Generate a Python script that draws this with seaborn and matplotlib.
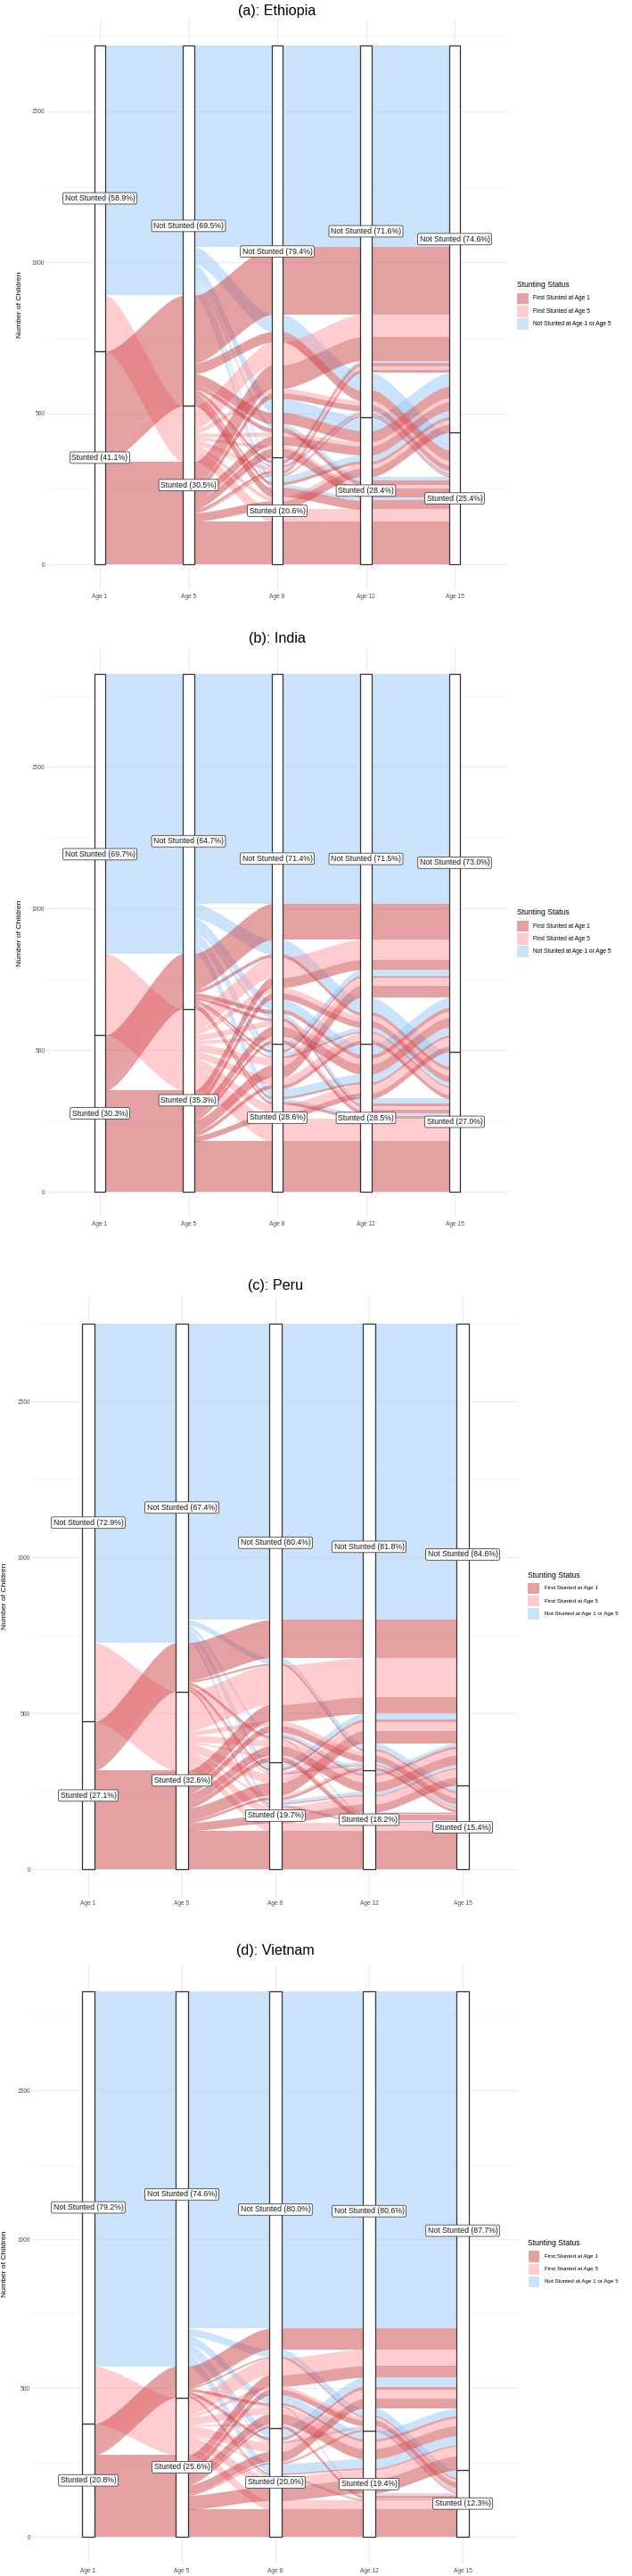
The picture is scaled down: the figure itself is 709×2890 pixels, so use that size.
import itertools
import numpy as np
import matplotlib
matplotlib.use("Agg")
import matplotlib.pyplot as plt
import seaborn as sns
from matplotlib.patches import Rectangle

# ---------------- data ----------------
ages = ['Age 1', 'Age 5', 'Age 8', 'Age 12', 'Age 15']
titles = ['(a): Ethiopia', '(b): India', '(c): Peru', '(d): Vietnam']
group_names = ['First Stunted at Age 1', 'First Stunted at Age 5',
               'Not Stunted at Age 1 or Age 5']
group_colors = ['#CC4247', '#FF9AA0', '#99C9F7']

# children per trajectory; pattern order NNNNN, NNNNS, ..., SSSSS
# (status at ages 1, 5, 8, 12, 15; N = not stunted, S = stunted)
ethiopia = [666, 57, 45, 13, 8, 8, 20, 10,
            75, 15, 13, 10, 13, 4, 14, 40,
            224, 35, 38, 15, 10, 4, 10, 30,
            78, 19, 30, 30, 9, 4, 28, 142]
india = [812, 51, 35, 16, 21, 15, 28, 10,
         71, 20, 20, 12, 27, 26, 31, 80,
         127, 12, 15, 10, 8, 5, 8, 10,
         35, 22, 35, 13, 42, 14, 20, 178]
peru = [950, 18, 10, 3, 19, 8, 10, 5,
        126, 15, 21, 5, 28, 7, 26, 25,
        121, 6, 8, 2, 8, 3, 4, 4,
        53, 21, 30, 16, 40, 8, 26, 124]
vietnam = [1132, 25, 26, 2, 31, 7, 31, 5,
           56, 10, 25, 5, 30, 5, 32, 30,
           70, 5, 8, 2, 10, 2, 5, 3,
           39, 19, 34, 8, 32, 4, 47, 93]

# stratum label percentages as printed
eth_stunted = [41.1, 30.5, 20.6, 28.4, 25.4]
eth_not = [58.9, 69.5, 79.4, 71.6, 74.6]
ind_stunted = [30.3, 35.3, 28.6, 28.5, 27.0]
ind_not = [69.7, 64.7, 71.4, 71.5, 73.0]
per_stunted = [27.1, 32.6, 19.7, 18.2, 15.4]
per_not = [72.9, 67.4, 80.4, 81.8, 84.6]
vie_stunted = [20.8, 25.6, 20.0, 19.4, 12.3]
vie_not = [79.2, 74.6, 80.0, 80.6, 87.7]

panels = [
    (ethiopia, eth_stunted, eth_not),
    (india, ind_stunted, ind_not),
    (peru, per_stunted, per_not),
    (vietnam, vie_stunted, vie_not),
]

# ---------------- layout (pixels) ----------------
W, H = 709, 2890
# left, right, top, bottom of each plotting panel
boxes = [(52.3, 569.7, 22.2, 662.1),
         (52.3, 569.7, 726.7, 1366.1),
         (36.0, 582.0, 1454.4, 2127.9),
         (36.0, 582.0, 2203.4, 2876.9)]
title_y = [12, 716, 1442, 2189]
ylab_x = [22.6, 22.6, 5.6, 5.6]
legend_pos = [(580, 320, 598, 4.8), (580, 1024, 598, 4.8),
              (592, 1767, 611, 4.5), (592.5, 2516.6, 611, 4.5)]

# zigzag lode ordering used by ggalluvial (axis index -> axes to sort on)
zigzag = {0: [0, 1, 2, 3, 4], 1: [1, 0, 2, 3, 4], 2: [2, 3, 1, 4, 0],
          3: [3, 4, 2, 1, 0], 4: [4, 3, 2, 1, 0]}

sns.set_theme(style="whitegrid")
plt.rcParams['font.family'] = ['Liberation Sans', 'DejaVu Sans']

fig = plt.figure(figsize=(W / 100, H / 100), dpi=100)


def px_rect(l, r, t, b):
    return [l / W, 1 - b / H, (r - l) / W, (b - t) / H]


def draw_panel(ax, counts, pct_s, pct_n):
    patterns = list(itertools.product([0, 1], repeat=5))
    n = len(ages)
    total = sum(counts)
    w = 1 / 8
    lo = np.zeros((32, n))
    hi = np.zeros((32, n))
    for i in range(n):
        idx = sorted(range(32), key=lambda k: tuple(patterns[k][j] for j in zigzag[i]))
        top = total
        for k in idx:
            hi[k, i] = top
            top -= counts[k]
            lo[k, i] = top

    t = np.linspace(0, 1, 80)
    sx = 3 * (1 - t) ** 2 * t * 0.25 + 3 * (1 - t) * t ** 2 * 0.75 + t ** 3
    sy = 3 * t ** 2 - 2 * t ** 3
    for k, p in enumerate(patterns):
        if counts[k] == 0:
            continue
        grp = 0 if p[0] == 1 else (1 if p[1] == 1 else 2)
        for i in range(n - 1):
            x0 = i + 1 + w / 2
            x1 = i + 2 - w / 2
            xs = x0 + (x1 - x0) * sx
            ylo = lo[k, i] + (lo[k, i + 1] - lo[k, i]) * sy
            yhi = hi[k, i] + (hi[k, i + 1] - hi[k, i]) * sy
            ax.fill_between(xs, ylo, yhi, color=group_colors[grp], alpha=0.5,
                            lw=0, zorder=2)

    # strata
    for i in range(n):
        s = sum(c for c, p in zip(counts, patterns) if p[i] == 1)
        for y0, y1, lab in [(0, s, f"Stunted ({pct_s[i]:.1f}%)"),
                            (s, total, f"Not Stunted ({pct_n[i]:.1f}%)")]:
            ax.add_patch(Rectangle((i + 1 - w / 2, y0), w, y1 - y0, facecolor='white',
                                   edgecolor='#333333', lw=0.9, zorder=3))
            ax.text(i + 1, (y0 + y1) / 2, lab, ha='center', va='center', fontsize=6.3,
                    color='#1a1a1a', zorder=5,
                    bbox=dict(boxstyle='round,pad=0.22,rounding_size=0.2',
                              fc='white', ec='#444444', lw=0.6))

    ax.set_xlim(0.4, 5.6)
    ax.set_ylim(-0.05 * total, 1.05 * total)
    ax.set_xticks(range(1, n + 1))
    ax.set_xticklabels(ages)
    ax.set_yticks([0, 500, 1000, 1500])
    ax.set_yticks([v for v in [250, 750, 1250, 1750] if v < 1.05 * total], minor=True)
    ax.grid(which='major', color='#EBEBEB', lw=0.8)
    ax.grid(which='minor', axis='y', color='#F3F3F3', lw=0.5)
    ax.grid(which='minor', axis='x', visible=False)
    ax.set_facecolor('white')
    ax.tick_params(which='both', length=0, labelsize=4.8, labelcolor='#4D4D4D')
    ax.tick_params(axis='x', pad=3)
    ax.tick_params(axis='y', pad=1.5)
    sns.despine(ax=ax, left=True, bottom=True)
    ax.set_axisbelow(True)


for j, (counts, ps, pn) in enumerate(panels):
    l, r, tp, b = boxes[j]
    ax = fig.add_axes(px_rect(l, r, tp, b))
    draw_panel(ax, counts, ps, pn)
    fig.text((l + r) / 2 / W, 1 - title_y[j] / H, titles[j], ha='center', va='center',
             fontsize=11.6, color='black')
    fig.text(ylab_x[j] / W, 1 - (tp + b) / 2 / H, 'Number of Children', rotation=90,
             ha='center', va='center', fontsize=6.1, color='black')
    # legend
    lx, ly, tx, fs = legend_pos[j]
    fig.text(lx / W, 1 - ly / H, 'Stunting Status', ha='left', va='center',
             fontsize=6.2, color='black')
    for g in range(3):
        cy = ly + 15 + g * 14.2
        fig.add_artist(Rectangle((lx / W, 1 - (cy + 6.3) / H), 12.5 / W, 12.6 / H,
                                 transform=fig.transFigure, facecolor=group_colors[g],
                                 alpha=0.5, lw=0))
        fig.text(tx / W, 1 - cy / H, group_names[g], ha='left', va='center',
                 fontsize=fs, color='black')

fig.savefig('out.png', dpi=100)
